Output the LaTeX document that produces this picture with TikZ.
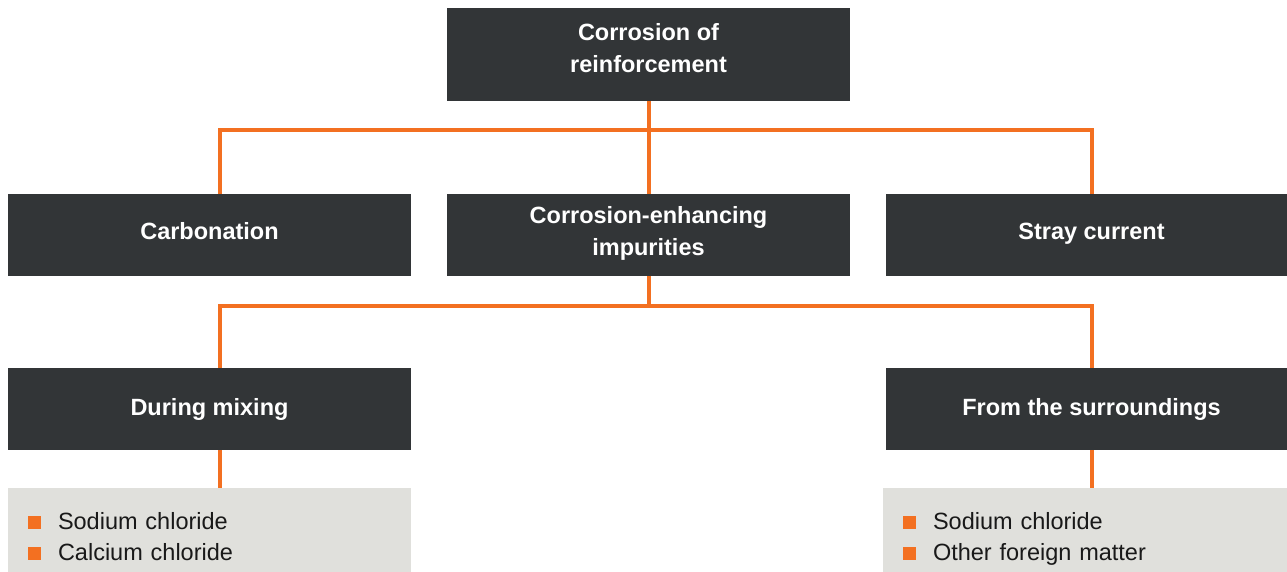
\documentclass[tikz,border=0pt]{standalone}
\usepackage{fontspec}
\setmainfont{Liberation Sans}
\usetikzlibrary{positioning}

\definecolor{boxdark}{HTML}{323537}
\definecolor{linkorange}{HTML}{F37021}
\definecolor{listgray}{HTML}{E0E0DC}

\newcommand{\listentry}[1]{\makebox[30pt][l]{\textcolor{linkorange}{\rule[0.5pt]{13pt}{13pt}}}#1}

\tikzset{
  darkbox/.style={fill=boxdark, text=white, font=\bfseries\fontsize{23.5}{32}\selectfont,
    minimum width=403pt, minimum height=82pt, inner sep=0pt, align=center},
  listbox/.style={fill=listgray, text=black!90, font=\fontsize{23.5}{31}\selectfont,
    minimum width=403pt, minimum height=97pt, inner xsep=20pt, inner ysep=0pt,
    text width=363pt, align=left},
  link/.style={draw=linkorange, line width=4pt}
}

\begin{document}
\begin{tikzpicture}[x=1pt, y=-1pt]
  \useasboundingbox (0,0) rectangle (1287,571);

  \node[darkbox, minimum height=93pt, text depth=14pt] (top) at (648.5,54.5) {Corrosion of\\reinforcement};

  \node[darkbox, text depth=8pt] (carb) at (209.5,235) {Carbonation};
  \node[darkbox, text depth=8pt] (impur) at (648.5,235) {Corrosion-enhancing\\impurities};
  \node[darkbox, text depth=8pt, minimum width=401pt] (stray) at (1086.5,235) {\hspace*{10pt}Stray current};

  \node[darkbox] (mix) at (209.5,409) {During mixing};
  \node[darkbox, minimum width=401pt] (surr) at (1086.5,409) {\hspace*{10pt}From the surroundings};

  \node[listbox] (listl) at (209.5,536.5) {\listentry{Sodium chloride}\\\listentry{Calcium chloride}};
  \node[listbox, minimum width=404pt, minimum height=101pt, text width=364pt] (listr) at (1085,538.5) {\listentry{Sodium chloride}\\\listentry{Other foreign matter}};

  \coordinate (j1) at (648.5,130);
  \coordinate (j2) at (648.5,306);

  % first level
  \draw[link] (top.south) -- (impur.north);
  \draw[link] ([xshift=10.5pt]carb.north) |- (j1) -| ([xshift=5.5pt]stray.north);

  % second level
  \draw[link] (impur.south) -- (j2);
  \draw[link] ([xshift=10.5pt]mix.north) |- (j2) -| ([xshift=5.5pt]surr.north);

  % lists
  \draw[link] ([xshift=10.5pt]mix.south) -- ([xshift=10.5pt]mix.south |- listl.north);
  \draw[link] ([xshift=5.5pt]surr.south) -- ([xshift=5.5pt]surr.south |- listr.north);
\end{tikzpicture}
\end{document}
